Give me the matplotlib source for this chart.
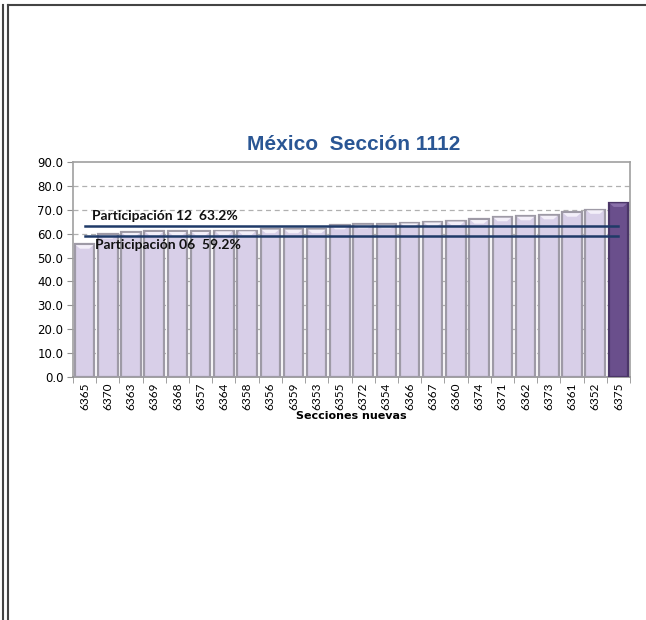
import matplotlib
matplotlib.use("Agg")
import matplotlib.pyplot as plt
from matplotlib.lines import Line2D
import numpy as np

secciones = ["6365", "6370", "6363", "6369", "6368", "6357", "6364", "6358", "6356", "6359",
             "6353", "6355", "6372", "6354", "6366", "6367", "6360", "6374", "6371", "6362",
             "6373", "6361", "6352", "6375"]
valores = [55.5, 59.7, 60.6, 61.0, 61.0, 61.0, 61.3, 61.3, 62.0, 62.0,
           62.0, 63.6, 64.0, 64.0, 64.6, 65.0, 65.4, 66.0, 67.0, 67.4,
           67.8, 68.9, 70.1, 73.0]
participacion_12 = 63.2
participacion_06 = 59.2
resaltada = "6375"
yticks = [0, 10, 20, 30, 40, 50, 60, 70, 80, 90]

fig = plt.figure(figsize=(6.46, 6.2), dpi=100)
ax = fig.add_axes([73/646, 1-377/620, (630-73)/646, (377-162)/620])

x = np.arange(len(secciones))
colors = ["#6A4F8C" if s == resaltada else "#D8CFE8" for s in secciones]
edges = ["#4B3668" if s == resaltada else "#9E9AA6" for s in secciones]
ax.bar(x, valores, width=0.84, color=colors, edgecolor=edges, linewidth=1.6, zorder=3)
# top highlight caps
for xi, v, s in zip(x, valores, secciones):
    cap = "#8A70AA" if s == resaltada else "#F3EFF9"
    ax.fill([xi-0.38, xi+0.38, xi+0.2, xi-0.2], [v-0.3, v-0.3, v-1.8, v-1.8],
            color=cap, zorder=4, lw=0)

ax.plot([x[0], x[-1]], [participacion_12]*2, color="#1F3A68", lw=1.8, zorder=5)
ax.plot([x[0], x[-1]], [participacion_06]*2, color="#1F3A68", lw=1.8, zorder=5)
ax.text(0.3, 65.0, f"Participación 12  {participacion_12:.1f}%", fontsize=10,
        fontweight="bold", family="Lato", color="#111111", va="bottom", zorder=6)
ax.text(0.45, 57.6, f"Participación 06  {participacion_06:.1f}%", fontsize=10,
        fontweight="bold", family="Lato", color="#111111", va="top", zorder=6)

ax.set_xlim(-0.5, len(secciones)-0.5)
ax.set_ylim(0, 90)
ax.set_yticks(yticks)
ax.set_yticklabels([f"{t:.1f}" for t in yticks], family="DejaVu Sans", fontsize=8.5)
for t in yticks[1:-1]:
    ax.axhline(t, color="#B0B0B0", lw=0.9, ls=(0, (4, 3)), zorder=1)

ax.set_xticks(x)
ax.set_xticklabels(secciones, rotation=90, family="Lato", fontsize=8.5)
ax.tick_params(axis="x", length=0, pad=4)
ax.set_xticks(np.arange(-0.5, len(secciones)), minor=True)
ax.tick_params(axis="x", which="minor", length=4, color="#909090")
ax.tick_params(axis="y", length=4, color="#909090", pad=3)
for sp in ax.spines.values():
    sp.set_color("#A0A0A0")
    sp.set_linewidth(1.2)
ax.spines["bottom"].set_color("#909090")
ax.set_xlabel("Secciones nuevas", fontsize=8, fontweight="bold", family="DejaVu Sans", labelpad=1)

fig.text(354/646, 1-145/620, "México  Sección 1112", ha="center", va="center",
         fontsize=15, fontweight="bold", family="Liberation Sans", color="#2A5694")

# page frame
fig.add_artist(Line2D([2.5/646, 2.5/646], [0, 1-5/620], transform=fig.transFigure, color="#444444", lw=1.5))
fig.add_artist(Line2D([8/646, 8/646], [0, 1-5/620], transform=fig.transFigure, color="#444444", lw=1.5))
fig.add_artist(Line2D([8/646, 1], [1-5/620, 1-5/620], transform=fig.transFigure, color="#444444", lw=1.5))

fig.savefig("out.png", dpi=100)
